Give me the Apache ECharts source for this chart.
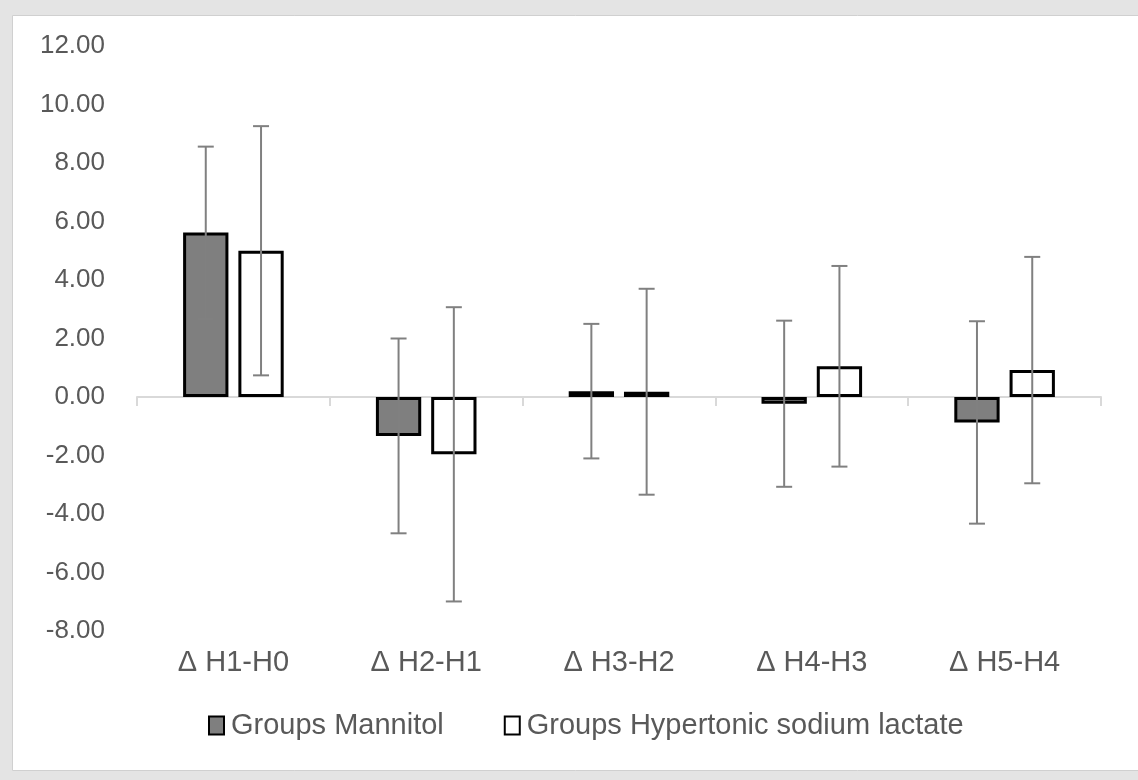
<!DOCTYPE html>
<html>
<head>
<meta charset="utf-8">
<script src="https://cdn.jsdelivr.net/npm/echarts@6/dist/echarts.min.js"></script>
<style>html,body{margin:0;padding:0;background:#e4e4e4;}#c{width:1138px;height:780px;}</style>
</head>
<body>
<div id="c"></div>
<script>
const categories = ['Δ H1-H0', 'Δ H2-H1', 'Δ H3-H2', 'Δ H4-H3', 'Δ H5-H4'];
const seriesNames = ['Groups Mannitol', 'Groups Hypertonic sodium lactate'];
const mannitolMean = [5.62, -1.33, 0.20, -0.23, -0.87];
const mannitolSD = [2.94, 3.33, 2.30, 2.84, 3.46];
const lactateMean = [5.00, -1.96, 0.18, 1.05, 0.92];
const lactateSD = [4.26, 5.03, 3.52, 3.43, 3.87];
const yTicks = [-8, -6, -4, -2, 0, 2, 4, 6, 8, 10, 12];

const BAR_W = 0.235;   // fraction of band
const BAR_GAP = 0.22;  // fraction of bar width
const FONT = '"Liberation Sans", Arial, sans-serif';

function errRender(sign) {
  return function (params, api) {
    const idx = api.value(0), mean = api.value(1), sd = api.value(2);
    const band = api.size([1, 0])[0];
    const w = band * BAR_W, g = w * BAR_GAP;
    const off = sign * (w + g) / 2;
    const top = api.coord([idx, mean + sd]);
    const bot = api.coord([idx, mean - sd]);
    const x = top[0] + off;
    const cap = 8;
    const st = {stroke: '#808080', lineWidth: 2};
    return {type: 'group', children: [
      {type: 'line', shape: {x1: x, y1: top[1], x2: x, y2: bot[1]}, style: st},
      {type: 'line', shape: {x1: x - cap, y1: top[1], x2: x + cap, y2: top[1]}, style: st},
      {type: 'line', shape: {x1: x - cap, y1: bot[1], x2: x + cap, y2: bot[1]}, style: st}
    ]};
  };
}

const chart = echarts.init(document.getElementById('c'));
chart.setOption({
  backgroundColor: '#e4e4e4',
  animation: false,
  graphic: [{
    type: 'rect', z: -10, silent: true,
    shape: {x: 12.5, y: 15.5, width: 1140, height: 755},
    style: {fill: '#ffffff', stroke: '#d0d0d0', lineWidth: 1}
  }],
  grid: {left: 137, right: 37, top: 46, bottom: 149},
  legend: {
    top: 706, left: 203,
    itemWidth: 15, itemHeight: 18, itemGap: 60,
    icon: 'rect',
    textStyle: {color: '#595959', fontSize: 29, fontFamily: FONT, padding: [0, 0, 0, 2]},
    data: seriesNames
  },
  xAxis: [{
    type: 'category', data: categories, position: 'bottom',
    axisLine: {onZero: true, lineStyle: {color: '#d9d9d9', width: 2}},
    axisTick: {show: true, length: 9, lineStyle: {color: '#d9d9d9', width: 2}},
    axisLabel: {show: false}
  }, {
    type: 'category', data: categories, position: 'bottom',
    axisLine: {show: false, onZero: false},
    axisTick: {show: false},
    axisLabel: {show: true, margin: 17, color: '#595959', fontSize: 29, fontFamily: FONT}
  }],
  yAxis: {
    type: 'value', min: -8, max: 12, interval: 2,
    splitLine: {show: false},
    axisLine: {show: false}, axisTick: {show: false},
    axisLabel: {margin: 32, color: '#595959', fontSize: 26, fontFamily: FONT,
      formatter: v => v.toFixed(2)}
  },
  series: [{
    name: seriesNames[0], type: 'bar', xAxisIndex: 0,
    data: mannitolMean, barWidth: (BAR_W * 100) + '%', barGap: (BAR_GAP * 100) + '%',
    itemStyle: {color: '#7f7f7f', borderColor: '#000000', borderWidth: 3}
  }, {
    name: seriesNames[1], type: 'bar', xAxisIndex: 0,
    data: lactateMean, barWidth: (BAR_W * 100) + '%', barGap: (BAR_GAP * 100) + '%',
    itemStyle: {color: '#ffffff', borderColor: '#000000', borderWidth: 3}
  }, {
    type: 'custom', xAxisIndex: 0, z: 10, silent: true,
    renderItem: errRender(-1),
    data: mannitolMean.map((m, i) => [i, m, mannitolSD[i]])
  }, {
    type: 'custom', xAxisIndex: 0, z: 10, silent: true,
    renderItem: errRender(1),
    data: lactateMean.map((m, i) => [i, m, lactateSD[i]])
  }]
});
</script>
</body>
</html>
